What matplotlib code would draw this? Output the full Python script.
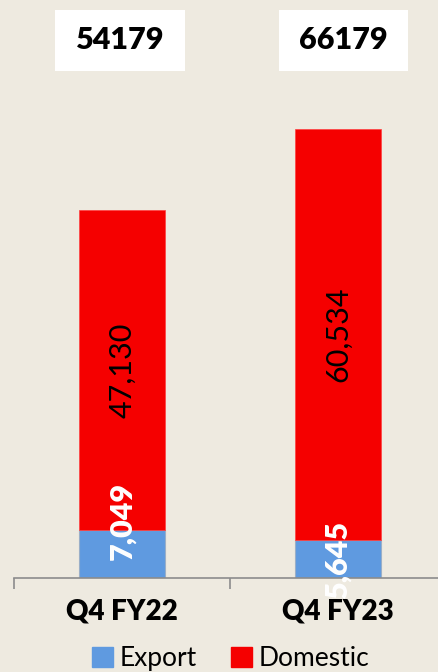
#!/usr/bin/python3

from matplotlib import pyplot as plt
from matplotlib.patches import Patch, Rectangle

categories = ["Q4 FY22", "Q4 FY23"]
export = [7049, 5645]
domestic = [47130, 60534]

BG = "#EEEAE0"
BLUE = "#5F9AE0"
RED = "#F50000"


def main():
    plt.rcParams["font.family"] = ["Lato", "DejaVu Sans"]
    fig = plt.figure(figsize=(4.39, 6.72), dpi=100, facecolor=BG)
    ax = fig.add_axes([14 / 439, 94 / 672, 432 / 439, 578 / 672])
    ax.set_facecolor(BG)

    x = range(len(categories))
    ax.bar(x, export, width=0.4, color=BLUE, edgecolor="#9AAFC8", linewidth=0.8)
    ax.bar(x, domestic, width=0.4, bottom=export, color=RED,
           edgecolor="#FF4040", linewidth=0.5)

    ax.set_xlim(-0.5, 1.5)
    ax.set_ylim(0, 85100)

    for i in x:
        # export label sits a bit higher on the first bar
        ey = export[i] * 1.2 if i == 0 else export[i] / 2
        ax.text(i, ey, f"{export[i]:,}", rotation=90, ha="center", va="center",
                color="white", fontsize=22, fontweight="heavy", clip_on=False)
        ax.text(i, export[i] + domestic[i] / 2, f"{domestic[i]:,}", rotation=90,
                ha="center", va="center", color="black", fontsize=22)
        total = export[i] + domestic[i]
        cx = i - 0.01 if i == 0 else i + 0.025
        ax.add_patch(Rectangle((cx - 0.3, 74650), 0.6, 9000, facecolor="white",
                               edgecolor="none", clip_on=False))
        ax.text(cx, 79150, str(total), ha="center", va="center", fontsize=22,
                fontweight="heavy")

    for s in ["top", "right", "left"]:
        ax.spines[s].set_visible(False)
    ax.spines["bottom"].set_color("#8C8C8C")
    ax.spines["bottom"].set_linewidth(1.2)
    ax.set_yticks([])
    ax.set_xticks([-0.5, 0.5, 1.5])
    ax.set_xticklabels([])
    ax.set_xticks(list(x), minor=True)
    ax.set_xticklabels(categories, minor=True, fontsize=20, fontweight="heavy")
    ax.tick_params(axis="x", which="major", length=8, width=1.2, color="#8C8C8C")
    ax.tick_params(axis="x", which="minor", length=0, pad=15)

    handles = [Patch(color=BLUE, label="Export"), Patch(color=RED, label="Domestic")]
    fig.legend(handles=handles, loc="center", bbox_to_anchor=(0.525, 0.02),
               ncol=2, frameon=False, fontsize=19, handlelength=0.8,
               handleheight=0.8, handletextpad=0.25, columnspacing=1.3)

    fig.savefig("out.png", facecolor=BG)


if __name__ == "__main__":
    main()
